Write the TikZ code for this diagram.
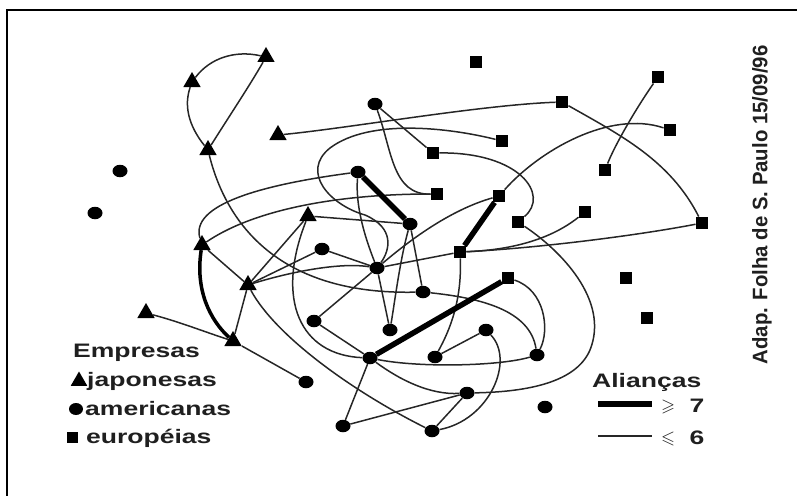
\documentclass[tikz,border=0pt]{standalone}
\usepackage{fontspec}
\setmainfont{Liberation Sans}
\usepackage{amssymb}
\usepackage{graphicx}
\usetikzlibrary{shapes.geometric}
\newcommand\legtxt[1]{\scalebox{1.36}[1]{\fontsize{19.5}{19.5}\selectfont\bfseries #1}}
\tikzset{
 jap/.style={regular polygon, regular polygon sides=3, fill=black, minimum size=20pt, inner sep=0pt},
 am/.style={ellipse, fill=black, minimum width=15pt, minimum height=12.5pt, inner sep=0pt},
 eu/.style={rectangle, fill=black, minimum size=12.5pt, inner sep=0pt},
 lk/.style={line width=1.5pt, black!85},
 fort/.style={line width=5.5pt, black},
 medio/.style={line width=3.5pt, black},
 lbl/.style={text=black!88, inner sep=0pt},
 frame/.style={line width=2pt, black},
}
\begin{document}
\begin{tikzpicture}[x=1pt,y=-1pt]
\useasboundingbox (0,0) rectangle (797,495);
% frame
\coordinate (fA) at (6.5,500); \coordinate (fB) at (6.5,10.5); \coordinate (fC) at (800,10.5);
\draw[frame] (fA) -- (fB) -- (fC);
% japanese
\node[jap] (T1) at (192,82) {};
\node[jap] (T2) at (266,57) {};
\node[jap] (T3) at (208,150) {};
\node[jap] (T4) at (278,135) {};
\node[jap] (T5) at (308,216) {};
\node[jap] (T6) at (202,245) {};
\node[jap] (T7) at (248,285) {};
\node[jap] (T8) at (146,313) {};
\node[jap] (T9) at (233,341) {};
% american
\node[am] (C1) at (120,171) {};
\node[am] (C2) at (95,213) {};
\node[am] (C3) at (375,104) {};
\node[am] (C4) at (358,172) {};
\node[am] (C5) at (410,224) {};
\node[am] (C6) at (322,249) {};
\node[am] (C7) at (377,268) {};
\node[am] (C8) at (423,292) {};
\node[am] (C9) at (314,321) {};
\node[am] (C10) at (390,330) {};
\node[am] (C11) at (486,330) {};
\node[am] (C12) at (370,358) {};
\node[am] (C13) at (435,357) {};
\node[am] (C14) at (537,355) {};
\node[am] (C15) at (467,393) {};
\node[am] (C16) at (306,382) {};
\node[am] (C17) at (545,407) {};
\node[am] (C18) at (343,426) {};
\node[am] (C19) at (432,431) {};
% european
\node[eu] (S1) at (476,62) {};
\node[eu] (S2) at (658,77) {};
\node[eu] (S3) at (562,102) {};
\node[eu] (S4) at (502,141) {};
\node[eu] (S5) at (670,130) {};
\node[eu] (S6) at (433,153) {};
\node[eu] (S7) at (605,170) {};
\node[eu] (S8) at (437,194) {};
\node[eu] (S9) at (499,196) {};
\node[eu] (S10) at (585,212) {};
\node[eu] (S11) at (518,222) {};
\node[eu] (S12) at (702,223) {};
\node[eu] (S13) at (460,252) {};
\node[eu] (S14) at (508,278) {};
\node[eu] (S15) at (626,278) {};
\node[eu] (S16) at (647,318) {};
% thin alliances
\draw[lk] (T1) .. controls (210,58) and (235,50) .. (T2);
\draw[lk] (T2) .. controls (250,85) and (230,115) .. (T3);
\draw[lk] (T1) .. controls (184,105) and (188,125) .. (T3);
\draw[lk] (T3) .. controls (228,230) and (285,295) .. (C8);
\draw[lk] (T4) .. controls (350,128) and (480,105) .. (S3);
\draw[lk] (S4) .. controls (450,128) and (370,118) .. (330,148) .. controls (300,172) and (330,205) .. (365,215) .. controls (395,228) and (390,250) .. (C7);
\draw[lk] (C3) -- (S6);
\draw[lk] (C3) .. controls (392,150) and (392,195) .. (S8);
\draw[lk] (S6) .. controls (520,152) and (550,195) .. (S11);
\draw[lk] (S3) .. controls (620,135) and (670,160) .. (S12);
\draw[lk] (S2) .. controls (635,110) and (615,145) .. (S7);
\draw[lk] (S9) .. controls (540,150) and (610,110) .. (S5);
\draw[lk] (S13) .. controls (540,248) and (640,235) .. (S12);
\draw[lk] (S10) .. controls (550,240) and (510,250) .. (S13);
\draw[lk] (S11) .. controls (560,250) and (610,300) .. (590,350) .. controls (575,385) and (520,392) .. (C15);
\draw[lk] (S9) .. controls (450,210) and (410,240) .. (C7);
\draw[lk] (S13) -- (C7);
\draw[lk] (S13) .. controls (462,300) and (450,330) .. (C13);
\draw[lk] (S14) .. controls (545,290) and (550,330) .. (C14);
\draw[lk] (C8) .. controls (480,298) and (530,310) .. (C14);
\draw[lk] (C11) -- (C13);
\draw[lk] (C19) .. controls (490,420) and (515,360) .. (C11);
\draw[lk] (C12) .. controls (420,368) and (500,366) .. (C14);
\draw[lk] (C9) -- (C12);
\draw[lk] (C12) -- (C18);
\draw[lk] (C12) .. controls (400,380) and (430,395) .. (C15);
\draw[lk] (C18) -- (C15);
\draw[lk] (C19) -- (C15);
\draw[lk] (C7) -- (C10);
\draw[lk] (C5) .. controls (400,260) and (395,300) .. (C10);
\draw[lk] (C5) -- (C8);
\draw[lk] (C6) -- (C7);
\draw[lk] (C6) -- (T7);
\draw[lk] (T5) -- (T7);
\draw[lk] (T5) -- (C5);
\draw[lk] (T5) .. controls (275,300) and (300,355) .. (C12);
\draw[lk] (T7) .. controls (275,335) and (350,390) .. (C19);
\draw[lk] (T6) .. controls (190,205) and (260,185) .. (C4);
\draw[lk] (T6) .. controls (250,212) and (330,194) .. (S8);
\draw[lk] (T6) -- (T7);
\draw[lk] (T7) -- (T9);
\draw[lk] (T8) .. controls (180,322) and (205,332) .. (T9);
\draw[lk] (T9) -- (C16);
\draw[lk] (C9) -- (C7);
\draw[lk] (T7) .. controls (290,272) and (340,262) .. (C7);
\draw[lk] (C4) .. controls (355,210) and (368,245) .. (C7);
% strong alliances
\draw[medio] (T6) .. controls (195,290) and (210,320) .. (T9);
\draw[fort] (C4) -- (C5);
\draw[fort] (S9) -- (S13);
\draw[fort] (C12) -- (S14);
% legend: companies
\node[lbl, anchor=base west] (tEmp) at (73,357) {\legtxt{Empresas}};
\node[jap, minimum size=19pt] (lT) at (79,381) {};
\node[lbl, anchor=base west] (tJap) at (87,386) {\legtxt{japonesas}};
\node[am, minimum width=14pt, minimum height=12pt] (lC) at (76,409) {};
\node[lbl, anchor=base west] (tAm) at (85,415) {\legtxt{americanas}};
\node[eu, minimum size=11pt] (lS) at (72,437) {};
\node[lbl, anchor=base west] (tEu) at (86,443) {\legtxt{europ\'eias}};
% legend: alliances
\node[lbl, anchor=base west] (tAl) at (592,387) {\legtxt{Alian\c{c}as}};
\coordinate (f1) at (598,404); \coordinate (f2) at (652,404);
\draw[fort] (f1) -- (f2);
\node[lbl] (g1) at (668,407) {\fontsize{18}{18}\selectfont$\geqslant$};
\node[lbl, anchor=base] (n7) at (697,412) {\legtxt{7}};
\coordinate (h1) at (598,436); \coordinate (h2) at (652,436);
\draw[lk] (h1) -- (h2);
\node[lbl] (g2) at (668,439) {\fontsize{18}{18}\selectfont$\leqslant$};
\node[lbl, anchor=base] (n6) at (697,444) {\legtxt{6}};
% source
\node[lbl, rotate=90] (src) at (762,205) {\scalebox{0.97}[1]{\fontsize{21}{21}\selectfont\bfseries Adap. Folha de S. Paulo 15/09/96}};
\end{tikzpicture}
\end{document}
